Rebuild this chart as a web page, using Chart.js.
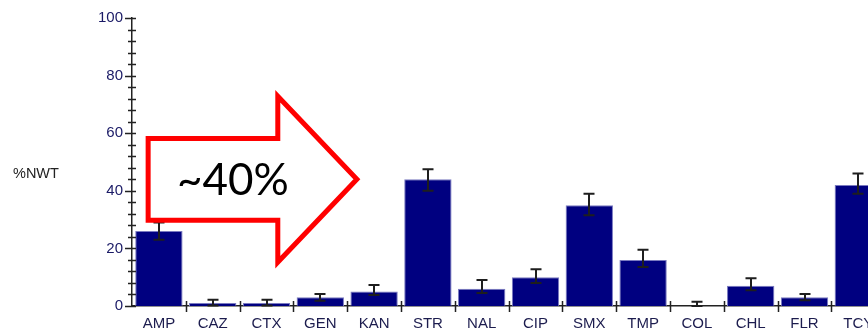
<!DOCTYPE html>
<html>
<head>
<meta charset="utf-8">
<script src="https://cdn.jsdelivr.net/npm/chart.js@4"></script>
<style>
  html, body { margin: 0; padding: 0; background: #fff; overflow: hidden; }
  #wrap { width: 868px; height: 334px; overflow: hidden; position: relative; }
  canvas { display: block; }
</style>
</head>
<body>
<div id="wrap"><canvas id="c" width="905" height="334"></canvas></div>
<script>
// Antimicrobial agents on the x axis
const categories = ['AMP', 'CAZ', 'CTX', 'GEN', 'KAN', 'STR', 'NAL', 'CIP', 'SMX', 'TMP', 'COL', 'CHL', 'FLR', 'TCY'];
// Percentage of non-wild-type isolates
const values = [26, 1, 1, 3, 5, 44, 6, 10, 35, 16, 0, 7, 3, 42];
// Confidence interval bounds
const lowerBounds = [23, 0.2, 0.2, 1.8, 3.8, 40, 4.5, 8, 31.5, 13.5, 0, 5.5, 2, 39];
const upperBounds = [29, 2.2, 2.2, 4.2, 7.3, 47.5, 9, 12.8, 39, 19.5, 1.5, 9.6, 4.2, 46];
// Y axis
const yTicks = [0, 20, 40, 60, 80, 100];
const yMinorTicks = [4, 8, 12, 16, 24, 28, 32, 36, 44, 48, 52, 56, 64, 68, 72, 76, 84, 88, 92, 96];
const yTitle = '%NWT';
// Callout
const calloutText = '~40%';
const calloutIndex = categories.indexOf('STR');

const AXIS = '#222';

const axisTicks = {
  id: 'axisTicks',
  afterDatasetsDraw(chart) {
    const ctx = chart.ctx, x = chart.scales.x, y = chart.scales.y;
    const ax = x.left, ay = y.bottom;
    ctx.save();
    ctx.strokeStyle = AXIS;
    ctx.lineWidth = 1.5;
    ctx.beginPath();
    yTicks.forEach(v => {
      const py = Math.round(y.getPixelForValue(v)) + 0.5;
      ctx.moveTo(ax - 7, py); ctx.lineTo(ax + 4, py);
    });
    yMinorTicks.forEach(v => {
      const py = Math.round(y.getPixelForValue(v)) + 0.5;
      ctx.moveTo(ax - 4, py); ctx.lineTo(ax + 4, py);
    });
    for (let i = 1; i <= categories.length; i++) {
      const px = Math.round(x.getPixelForValue(i - 0.5)) + 0.5;
      ctx.moveTo(px, ay - 5); ctx.lineTo(px, ay + 6);
    }
    ctx.stroke();

    // error bars
    ctx.lineWidth = 2;
    ctx.strokeStyle = '#1e1e1e';
    ctx.beginPath();
    categories.forEach((c, i) => {
      const px = Math.round(x.getPixelForValue(i));
      const t = y.getPixelForValue(upperBounds[i]);
      const b = y.getPixelForValue(lowerBounds[i]);
      ctx.moveTo(px, t); ctx.lineTo(px, b);
      ctx.moveTo(px - 5.5, t); ctx.lineTo(px + 5.5, t);
      ctx.moveTo(px - 5.5, b); ctx.lineTo(px + 5.5, b);
    });
    ctx.stroke();

    // horizontal axis title
    ctx.fillStyle = '#222';
    ctx.font = '14.5px "Liberation Sans", Arial, sans-serif';
    ctx.textAlign = 'left';
    ctx.textBaseline = 'alphabetic';
    ctx.fillText(yTitle, 13, 178);
    ctx.restore();
  },
  afterDraw(chart) {
    // block arrow pointing at the STR level
    const ctx = chart.ctx, x = chart.scales.x, y = chart.scales.y;
    const level = values[calloutIndex];
    const cy = y.getPixelForValue(level);
    const bodyTop = y.getPixelForValue(level + 14.2);
    const bodyBot = y.getPixelForValue(level - 14.2);
    const headTop = y.getPixelForValue(level + 28.8);
    const headBot = y.getPixelForValue(level - 28.8);
    const left = x.getPixelForValue(-0.2);
    const base = x.getPixelForValue(2.21);
    const tip = x.getPixelForValue(3.68);
    ctx.save();
    ctx.beginPath();
    ctx.moveTo(left, bodyTop);
    ctx.lineTo(base, bodyTop);
    ctx.lineTo(base, headTop);
    ctx.lineTo(tip, cy);
    ctx.lineTo(base, headBot);
    ctx.lineTo(base, bodyBot);
    ctx.lineTo(left, bodyBot);
    ctx.closePath();
    ctx.fillStyle = '#fff';
    ctx.fill();
    ctx.lineJoin = 'miter';
    ctx.lineWidth = 5;
    ctx.strokeStyle = '#ff0000';
    ctx.stroke();

    const fs = 44;
    ctx.font = fs + 'px Lato, "Open Sans", sans-serif';
    ctx.fillStyle = '#000';
    ctx.textAlign = 'center';
    ctx.textBaseline = 'alphabetic';
    ctx.fillText(calloutText, x.getPixelForValue(1.375), cy + fs * 0.36);
    ctx.restore();
  }
};

new Chart(document.getElementById('c'), {
  type: 'bar',
  data: {
    labels: categories,
    datasets: [{
      data: values,
      backgroundColor: '#000080',
      borderColor: '#7a7ac0',
      borderWidth: 1,
      barPercentage: 0.88,
      categoryPercentage: 1.0
    }]
  },
  options: {
    responsive: false,
    animation: false,
    devicePixelRatio: 1,
    layout: { padding: { top: 18, right: 19.8, bottom: 0, left: 0 } },
    plugins: { legend: { display: false }, tooltip: { enabled: false } },
    scales: {
      x: {
        grid: { display: false, drawTicks: false },
        border: { display: true, color: AXIS, width: 1.5 },
        ticks: {
          color: '#1c1c4e',
          font: { family: '"Liberation Sans", Arial, sans-serif', size: 15 },
          padding: 9,
          maxRotation: 0,
          autoSkip: false
        },
        afterFit(s) { s.height = 28; }
      },
      y: {
        min: 0,
        max: 100,
        grid: { display: false, drawTicks: false },
        border: { display: true, color: AXIS, width: 1.5 },
        ticks: {
          stepSize: 20,
          color: '#1a1a66',
          font: { family: '"Liberation Sans", Arial, sans-serif', size: 15 },
          padding: 9
        },
        afterFit(s) { s.width = 132; }
      }
    }
  },
  plugins: [axisTicks]
});
</script>
</body>
</html>
